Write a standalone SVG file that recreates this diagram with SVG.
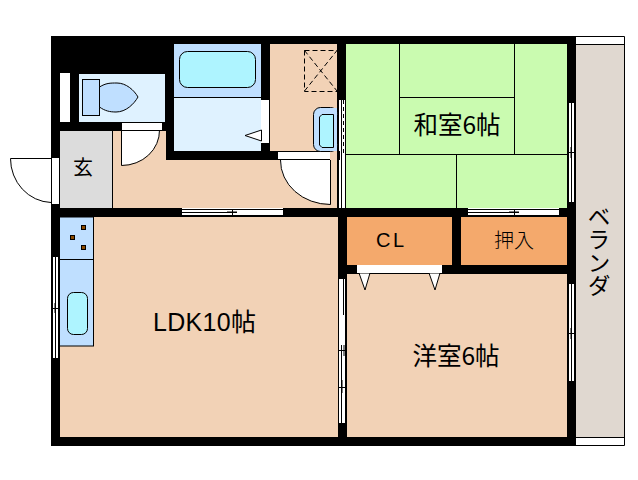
<svg xmlns="http://www.w3.org/2000/svg" width="638" height="480" viewBox="0 0 638 480">
<style>
.l{fill:none;stroke:#000;stroke-width:1}
.s{stroke:#000;stroke-width:1}
.w{fill:#fff}
.p{fill:#f2d2b6}
.o{fill:#f4a96c}
.b{fill:#bfdfff}
.lb{fill:#dff2ff}
.c{fill:#aef4ff}
.g{fill:#cafbb0}
.t{font-family:"Noto Sans CJK JP","Liberation Sans",sans-serif;font-size:24.500px;fill:#000;text-anchor:middle}
.n{font-size:20px;font-weight:300}
.a{font-family:"Liberation Sans","Noto Sans CJK JP",sans-serif}
</style>
<rect width="638" height="480" fill="#fff"/>
<g id="walls"><rect x="51" y="36" width="525" height="410" fill="#000"/></g>
<g id="balcony">
<rect x="576" y="44" width="48" height="393" fill="#e0d8d0"/>
<path class="l" d="M576 36.500H624.500V445.500H576M576 44.500H624.500M576 437.500H624.500"/>
<text class="t" x="599" y="205" style="writing-mode:vertical-rl;text-anchor:start;font-size:23px">ベランダ</text>
</g>
<g id="toilet">
<rect class="lb" x="79" y="74" width="86" height="48"/>
<rect class="w" x="60" y="73" width="10" height="49"/>
<rect class="b s" x="82.500" y="79.500" width="17" height="36"/>
<path class="b s" d="M99.500 87C106 83 110 83 117 83C126 83 134 90 138 97C134 104 126 112 116 112C110 112 105 111 99.500 107Z"/>
</g>
<g id="entry">
<rect x="60" y="131" width="52" height="77" fill="#dcdcdc"/>
<path class="l" d="M112.500 131V208"/>
<text class="t" x="83" y="175" style="font-size:20px">玄</text>
</g>
<g id="hall">
<path class="p" d="M113 131H166V160H278V151H337V208H113Z"/>
<rect class="p" x="270" y="44" width="67" height="107"/>
<path class="w" d="M121 122H162V130H160A38 36 0 0 1 121 165Z"/>
<path class="l" d="M121.500 122V165.500A38 35 0 0 0 159.500 130"/>
<path class="l" d="M121 122.500H162M121 130.500H162"/>
<rect class="w" x="278" y="152" width="52" height="8"/>
<path class="w" d="M280 160H330V204A50 44 0 0 1 280 160Z"/>
<path class="l" d="M278 151.500H330M278 159.500H330M330.500 160V204.500A50 44 0 0 1 280.500 160"/>
<rect x="271" y="151" width="7" height="9" fill="#000"/>
<rect class="b s" x="313.500" y="107.500" width="24" height="44" rx="7"/>
<rect x="331" y="108" width="6" height="43" class="b"/>
<path class="c s" d="M322 114.500H333.500V147.500H322L319.500 145V117Z"/>
<path d="M304.500 50.500H337M304.500 50.500V91.500H337M304.500 91L337 50.500M304.500 50.500L337 91" fill="none" stroke="#000" stroke-dasharray="5 3"/>
</g>
<g id="bath">
<rect class="b" x="174" y="44" width="87" height="53"/>
<rect class="lb" x="174" y="97" width="87" height="54"/>
<path class="l" d="M174 97.500H261"/>
<rect class="c s" x="179.500" y="51.500" width="76" height="36" rx="8"/>
<rect class="w" x="261" y="100" width="8" height="43"/>
<path class="w s" d="M245 135.500L261.500 130V141Z"/>
</g>
<g id="washitsu">
<rect class="g" x="346" y="44" width="221" height="164"/>
<path class="l" d="M399.500 44V154M514.500 44V154M399.500 97.500H514.500M346 154.500H567M456.500 154.500V208"/>
<text class="t" x="457" y="134">和室6帖</text>
</g>
<g id="closets">
<rect class="o" x="347" y="217" width="105" height="48"/>
<rect class="o" x="461" y="217" width="106" height="48"/>
<text class="t n a" x="390" y="247" textLength="28">CL</text>
<text class="t n" x="514" y="248">押入</text>
</g>
<g id="ldk">
<rect class="p" x="60" y="217" width="278" height="220"/>
<rect class="b s" x="59.500" y="217" width="34" height="129"/>
<path class="l" d="M60 259.500H93"/>
<rect class="c s" x="67.500" y="292.500" width="20" height="42" rx="6"/>
<g fill="#8b4a00" stroke="#000"><rect x="81.500" y="225.500" width="4" height="4"/><rect x="70.500" y="235.500" width="4" height="4"/><rect x="81.500" y="245.500" width="4" height="4"/></g>
<text class="t a" x="204.500" y="331" style="font-size:25px" textLength="103">LDK10帖</text>
</g>
<g id="yoshitsu">
<rect class="p" x="347" y="274" width="220" height="163"/>
<path class="w s" d="M359 273L365 290L370 273Z"/>
<path class="w s" d="M429 273L435 290L440 273Z"/>
<text class="t" x="456" y="365">洋室6帖</text>
</g>
<g id="openings">
<rect class="w" x="357" y="265" width="85" height="8"/>
<path class="l" d="M442.500 265V273"/>
<g class="w">
<rect x="52" y="158" width="7" height="46"/>
<rect x="52" y="257" width="7" height="101"/>
<rect x="181" y="208" width="102" height="8"/>
<rect x="468" y="208" width="92" height="8"/>
<rect x="568" y="103" width="7" height="99"/>
<rect x="568" y="284" width="7" height="97"/>
<rect x="338" y="100" width="8" height="108"/>
<rect x="338" y="279" width="8" height="144"/>
</g>
<path class="l" d="M51.500 158V204M59.500 158V204M51 158.500H10.500A42 44 0 0 0 51 202.500"/>
<path class="l" d="M52.500 257V358M58.500 257V358M55.500 257V358M51 308.500H59M55 303V313"/>
<path class="l" d="M181.500 208V216M181 209.500H283M181 215.500H283M181 212.500H237M232.500 209V216M227 212H237"/>
<path class="l" d="M468 209.500H560M468 215.500H560M468 212.500H519M514.500 209V216M509 212H519M559.500 208V216"/>
<path class="l" d="M568.500 103V202M574.500 103V202M571.500 103V202M568 152.500H575M571 147V158"/>
<path class="l" d="M568.500 284V381M574.500 284V381M571.500 284V381M568 333.500H575M571 328V339"/>
<path class="l" d="M338.500 100V208M345.500 100V208M341.500 100V208"/>
<path d="M343.500 100V154" fill="none" stroke="#000" stroke-dasharray="4 3"/>
<path class="l" d="M338.500 279V423M345.500 279V423M341.500 345V423M343.500 279V315"/>
<path class="l" d="M338 350.500H346M338 387.500H346M342 380V393M344 345V356"/>
<rect x="338" y="151" width="2" height="9" fill="#000"/>
</g>
</svg>
